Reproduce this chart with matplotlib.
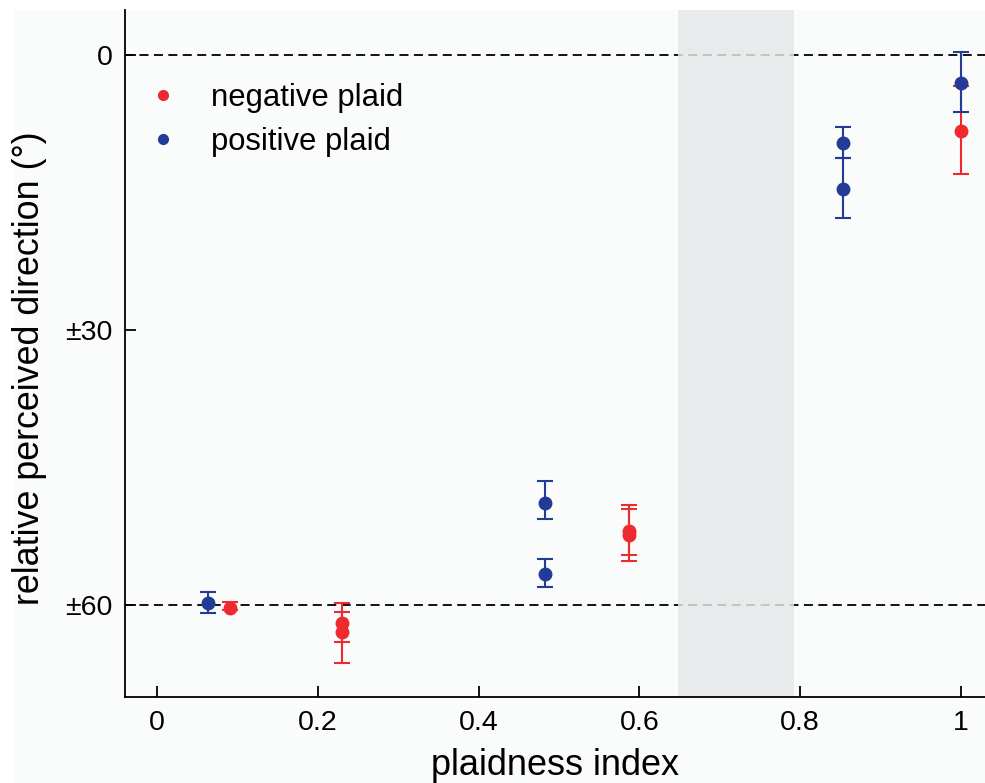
import matplotlib
matplotlib.use("Agg")
import matplotlib.pyplot as plt
from matplotlib.patches import Rectangle
import numpy as np

plt.rcParams['font.family'] = ['Liberation Sans', 'DejaVu Sans']

# data: x = plaidness index, y = relative perceived direction (deg, magnitude)
neg_x = [0.091, 0.230, 0.230, 0.587, 0.587, 1.0]
neg_y = [60.3, 61.9, 62.9, 51.9, 52.3, 8.3]
neg_lo = [59.6, 59.7, 60.7, 49.1, 49.5, 3.4]
neg_hi = [60.5, 64.0, 66.3, 54.5, 55.2, 13.0]

pos_x = [0.063, 0.483, 0.483, 0.853, 0.853, 1.0]
pos_y = [59.7, 48.8, 56.6, 9.6, 14.6, 3.05]
pos_lo = [58.5, 46.5, 55.0, 7.9, 11.2, -0.3]
pos_hi = [60.8, 50.6, 58.0, 11.2, 17.8, 6.2]

band = (0.648, 0.792)
ref_lines = [0, 60]
xticks = [0, 0.2, 0.4, 0.6, 0.8, 1]
xticklabels = ['0', '0.2', '0.4', '0.6', '0.8', '1']
yticks = [0, 30, 60]
yticklabels = ['0', '±30', '±60']

RED = '#ee2a2e'
BLUE = '#223b96'

fig = plt.figure(figsize=(9.85, 7.83), dpi=100)
fig.patch.set_facecolor('white')
fig.patches.append(Rectangle((14/985, 0), 1 - 14/985, 1 - 10/783,
                             transform=fig.transFigure, facecolor='#fafbfb',
                             edgecolor='none', zorder=-10))
ax = fig.add_axes([125/985, 1 - 697/783, 1 - 125/985, (697 - 10)/783])
ax.set_facecolor('#fafbfb')

for yl in ref_lines:
    ax.axhline(yl, color='black', lw=1.3, ls=(0, (5, 3)), zorder=1)

ax.axvspan(band[0], band[1], facecolor=(0.897, 0.905, 0.91), alpha=0.84,
           edgecolor='none', zorder=2)

def draw(xs, ys, lo, hi, color, label):
    ys = np.array(ys); lo = np.array(lo); hi = np.array(hi)
    yerr = np.vstack([ys - lo, hi - ys])
    ax.errorbar(xs, ys, yerr=yerr, fmt='none', ecolor=color, elinewidth=1.5,
                capsize=6, capthick=1.5, zorder=3)
    ax.plot(xs, ys, 'o', color=color, markersize=9, zorder=4, ls='none')
    ax.plot([], [], 'o', color=color, markersize=7, ls='none', label=label)

draw(neg_x, neg_y, neg_lo, neg_hi, RED, 'negative plaid')
draw(pos_x, pos_y, pos_lo, pos_hi, BLUE, 'positive plaid')

ax.set_xlim(-0.0398, 1.030)
ax.set_ylim(70.0, -4.9)

ax.set_xticks(xticks)
ax.set_xticklabels(xticklabels)
ax.set_yticks(yticks)
ax.set_yticklabels(yticklabels)
ax.tick_params(direction='in', length=8, width=1.3, labelsize=20.5, pad=9)

for s in ['top', 'right']:
    ax.spines[s].set_visible(False)
for s in ['left', 'bottom']:
    ax.spines[s].set_linewidth(1.3)

ax.set_xlabel('plaidness index', fontsize=26, labelpad=9)
ax.set_ylabel('relative perceived direction (°)', fontsize=25.8)
ax.yaxis.set_label_coords((47 - 125) / 860, (697 - 368) / 687)

ax.legend(loc='upper left', bbox_to_anchor=(-0.0116, 0.93), frameon=False,
          fontsize=22.35, handletextpad=0.8, labelspacing=0.45, borderpad=0.3,
          handlelength=1.5)

fig.savefig('out.png', dpi=100, facecolor=fig.get_facecolor())
